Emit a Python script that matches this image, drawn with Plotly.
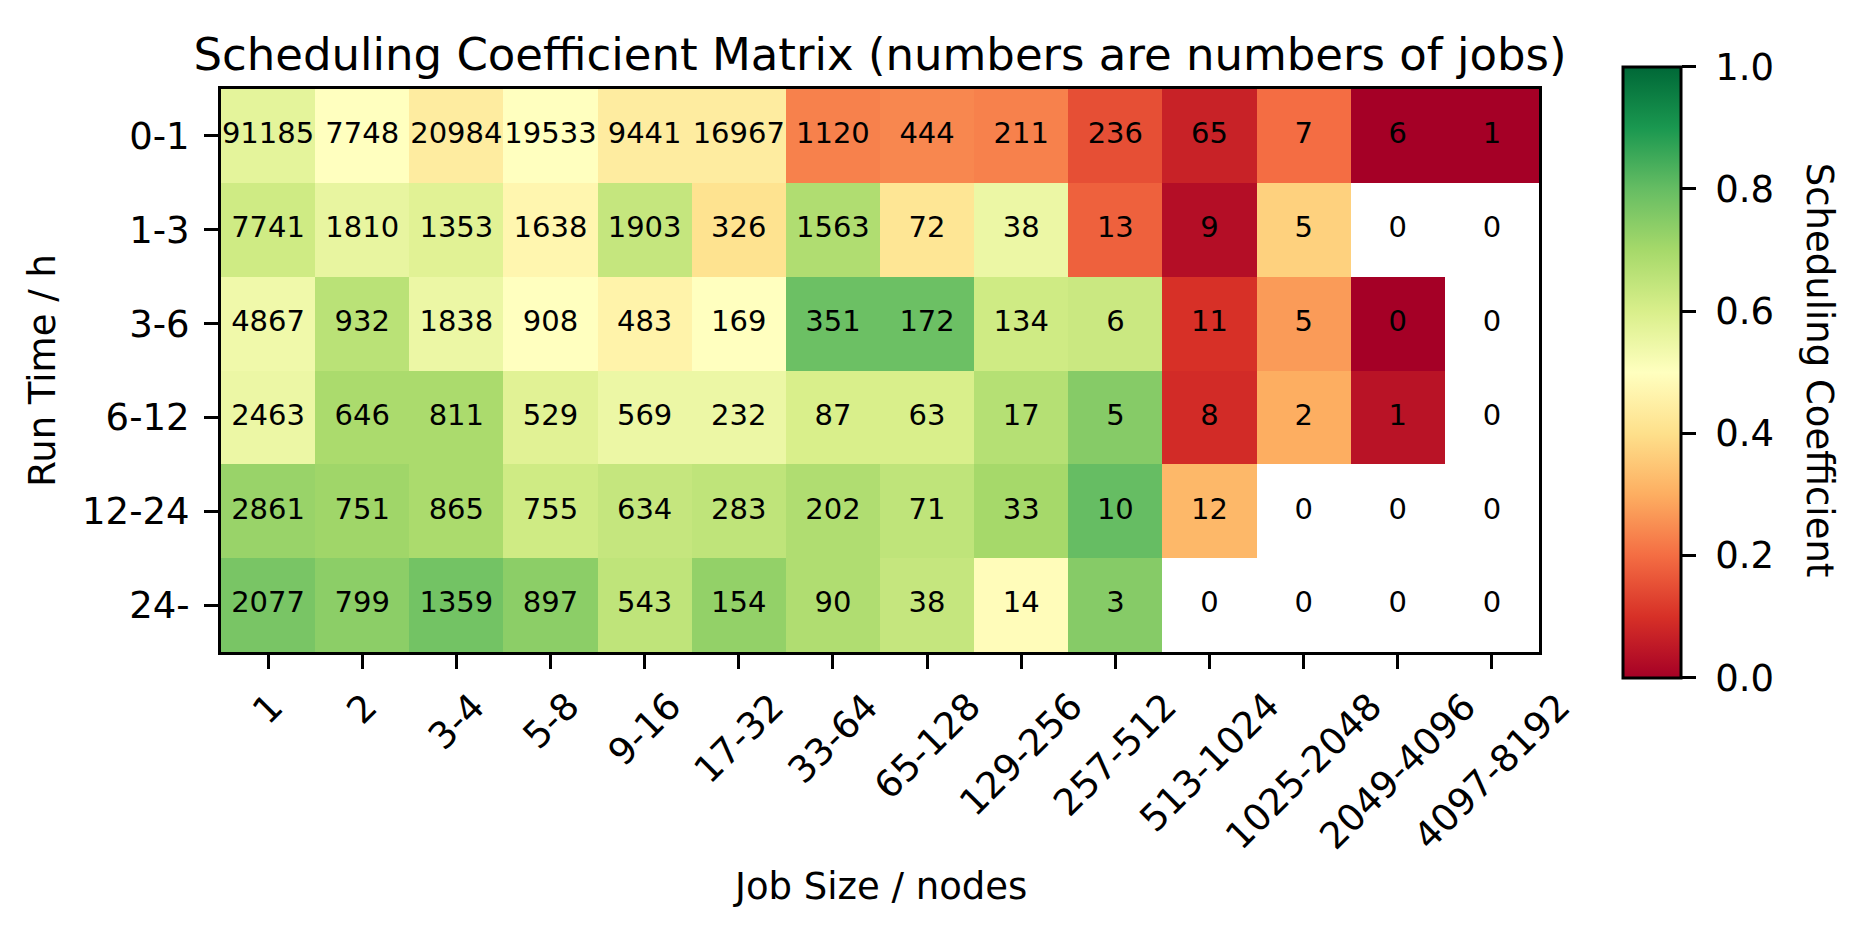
import plotly.graph_objects as go

# Categorias dos eixos
job_sizes = ['1', '2', '3-4', '5-8', '9-16', '17-32', '33-64', '65-128',
             '129-256', '257-512', '513-1024', '1025-2048', '2049-4096', '4097-8192']
run_times = ['0-1', '1-3', '3-6', '6-12', '12-24', '24-']

# Coeficiente de escalonamento (lido pela cor), None = sem dados
coef_0_1 = [0.57, 0.50, 0.44, 0.50, 0.44, 0.44, 0.23, 0.24, 0.23, 0.15, 0.07, 0.20, 0.0, 0.0]
coef_1_3 = [0.62, 0.56, 0.58, 0.47, 0.64, 0.41, 0.68, 0.42, 0.55, 0.18, 0.03, 0.37, None, None]
coef_3_6 = [0.54, 0.66, 0.55, 0.50, 0.46, 0.50, 0.79, 0.79, 0.62, 0.63, 0.10, 0.27, 0.0, None]
coef_6_12 = [0.55, 0.69, 0.69, 0.58, 0.55, 0.55, 0.60, 0.60, 0.67, 0.75, 0.09, 0.30, 0.04, None]
coef_12_24 = [0.72, 0.71, 0.69, 0.62, 0.64, 0.65, 0.68, 0.65, 0.70, 0.80, 0.32, None, None, None]
coef_24 = [0.77, 0.74, 0.78, 0.74, 0.65, 0.73, 0.68, 0.64, 0.49, 0.75, None, None, None, None]

# Número de jobs em cada célula
jobs_0_1 = [91185, 7748, 20984, 19533, 9441, 16967, 1120, 444, 211, 236, 65, 7, 6, 1]
jobs_1_3 = [7741, 1810, 1353, 1638, 1903, 326, 1563, 72, 38, 13, 9, 5, 0, 0]
jobs_3_6 = [4867, 932, 1838, 908, 483, 169, 351, 172, 134, 6, 11, 5, 0, 0]
jobs_6_12 = [2463, 646, 811, 529, 569, 232, 87, 63, 17, 5, 8, 2, 1, 0]
jobs_12_24 = [2861, 751, 865, 755, 634, 283, 202, 71, 33, 10, 12, 0, 0, 0]
jobs_24 = [2077, 799, 1359, 897, 543, 154, 90, 38, 14, 3, 0, 0, 0, 0]

z = [coef_0_1, coef_1_3, coef_3_6, coef_6_12, coef_12_24, coef_24]
jobs = [jobs_0_1, jobs_1_3, jobs_3_6, jobs_6_12, jobs_12_24, jobs_24]

fonte = 'DejaVu Sans'
tam_tick = 37

fig = go.Figure()

fig.add_trace(go.Heatmap(
    z = z,
    x = job_sizes,
    y = run_times,
    colorscale = 'RdYlGn',
    zmin = 0,
    zmax = 1,
    hoverongaps = False,
    colorbar = dict(
        x = 1.0635,
        xanchor = 'left',
        xpad = 0,
        y = 0.497,
        yanchor = 'middle',
        ypad = 0,
        len = 1.085,
        lenmode = 'fraction',
        thickness = 58,
        outlinewidth = 3,
        outlinecolor = 'black',
        ticks = 'outside',
        ticklen = 14,
        tickwidth = 3,
        tickcolor = 'black',
        tick0 = 0,
        dtick = 0.2,
        tickformat = '.1f',
        tickprefix = '\u00a0',
        tickfont = dict(family = fonte, size = tam_tick, color = 'black'),
    ),
))

# Números de jobs sobre as células (inclusive as vazias)
tx, ty, tt = [], [], []
for i, rt in enumerate(run_times):
    for j, js in enumerate(job_sizes):
        tx.append(js)
        ty.append(rt)
        tt.append(str(jobs[i][j]))

fig.add_trace(go.Scatter(
    x = tx, y = ty, text = tt, mode = 'text',
    textfont = dict(family = fonte, size = 29, color = 'black'),
    hoverinfo = 'skip', showlegend = False,
))

eixo = dict(
    showline = True, mirror = True, linewidth = 3, linecolor = 'black',
    ticks = 'outside', ticklen = 14, tickwidth = 3, tickcolor = 'black',
    showgrid = False, zeroline = False,
    tickfont = dict(family = fonte, size = tam_tick, color = 'black'),
)

# rótulos do eixo x: girados 45 graus e centrados no tick (como no matplotlib)
fig.update_xaxes(**eixo, range = [-0.5, len(job_sizes) - 0.5], showticklabels = False)
fig.update_yaxes(
    **eixo,
    range = [len(run_times) - 0.5, -0.5],
    ticklabelstandoff = 7,
    title = dict(text = 'Run Time / h', font = dict(family = fonte, size = tam_tick, color = 'black'), standoff = 16),
)

# x numérico = índice da categoria no eixo
for j, js in enumerate(job_sizes):
    fig.add_annotation(
        text = js, x = j, xref = 'x', y = 0, yref = 'paper',
        xanchor = 'center', yanchor = 'top', yshift = -30,
        textangle = -45, showarrow = False,
        font = dict(family = fonte, size = tam_tick, color = 'black'),
    )

fig.add_annotation(
    text = 'Job Size / nodes', x = 0.5, xref = 'paper', y = 0, yref = 'paper',
    xanchor = 'center', yanchor = 'middle', yshift = -234, showarrow = False,
    font = dict(family = fonte, size = tam_tick, color = 'black'),
)

fig.add_annotation(
    text = 'Scheduling Coefficient',
    xref = 'paper', yref = 'paper',
    x = 1.213, y = 0.5, xanchor = 'center', yanchor = 'middle',
    textangle = 90, showarrow = False,
    font = dict(family = fonte, size = tam_tick, color = 'black'),
)

# margens descontam os 8px de margem do <body> da página
fig.update_layout(
    width = 1864,
    height = 936,
    margin = dict(l = 213, r = 333, t = 81, b = 292),
    plot_bgcolor = 'white',
    paper_bgcolor = 'white',
    title = dict(
        text = 'Scheduling Coefficient Matrix (numbers are numbers of jobs)',
        font = dict(family = fonte, size = 45, color = 'black'),
        x = 0.5, xref = 'paper', xanchor = 'center',
        y = 1 - 46 / 936, yref = 'container', yanchor = 'middle',
    ),
    showlegend = False,
)

fig.write_html('out.html')
